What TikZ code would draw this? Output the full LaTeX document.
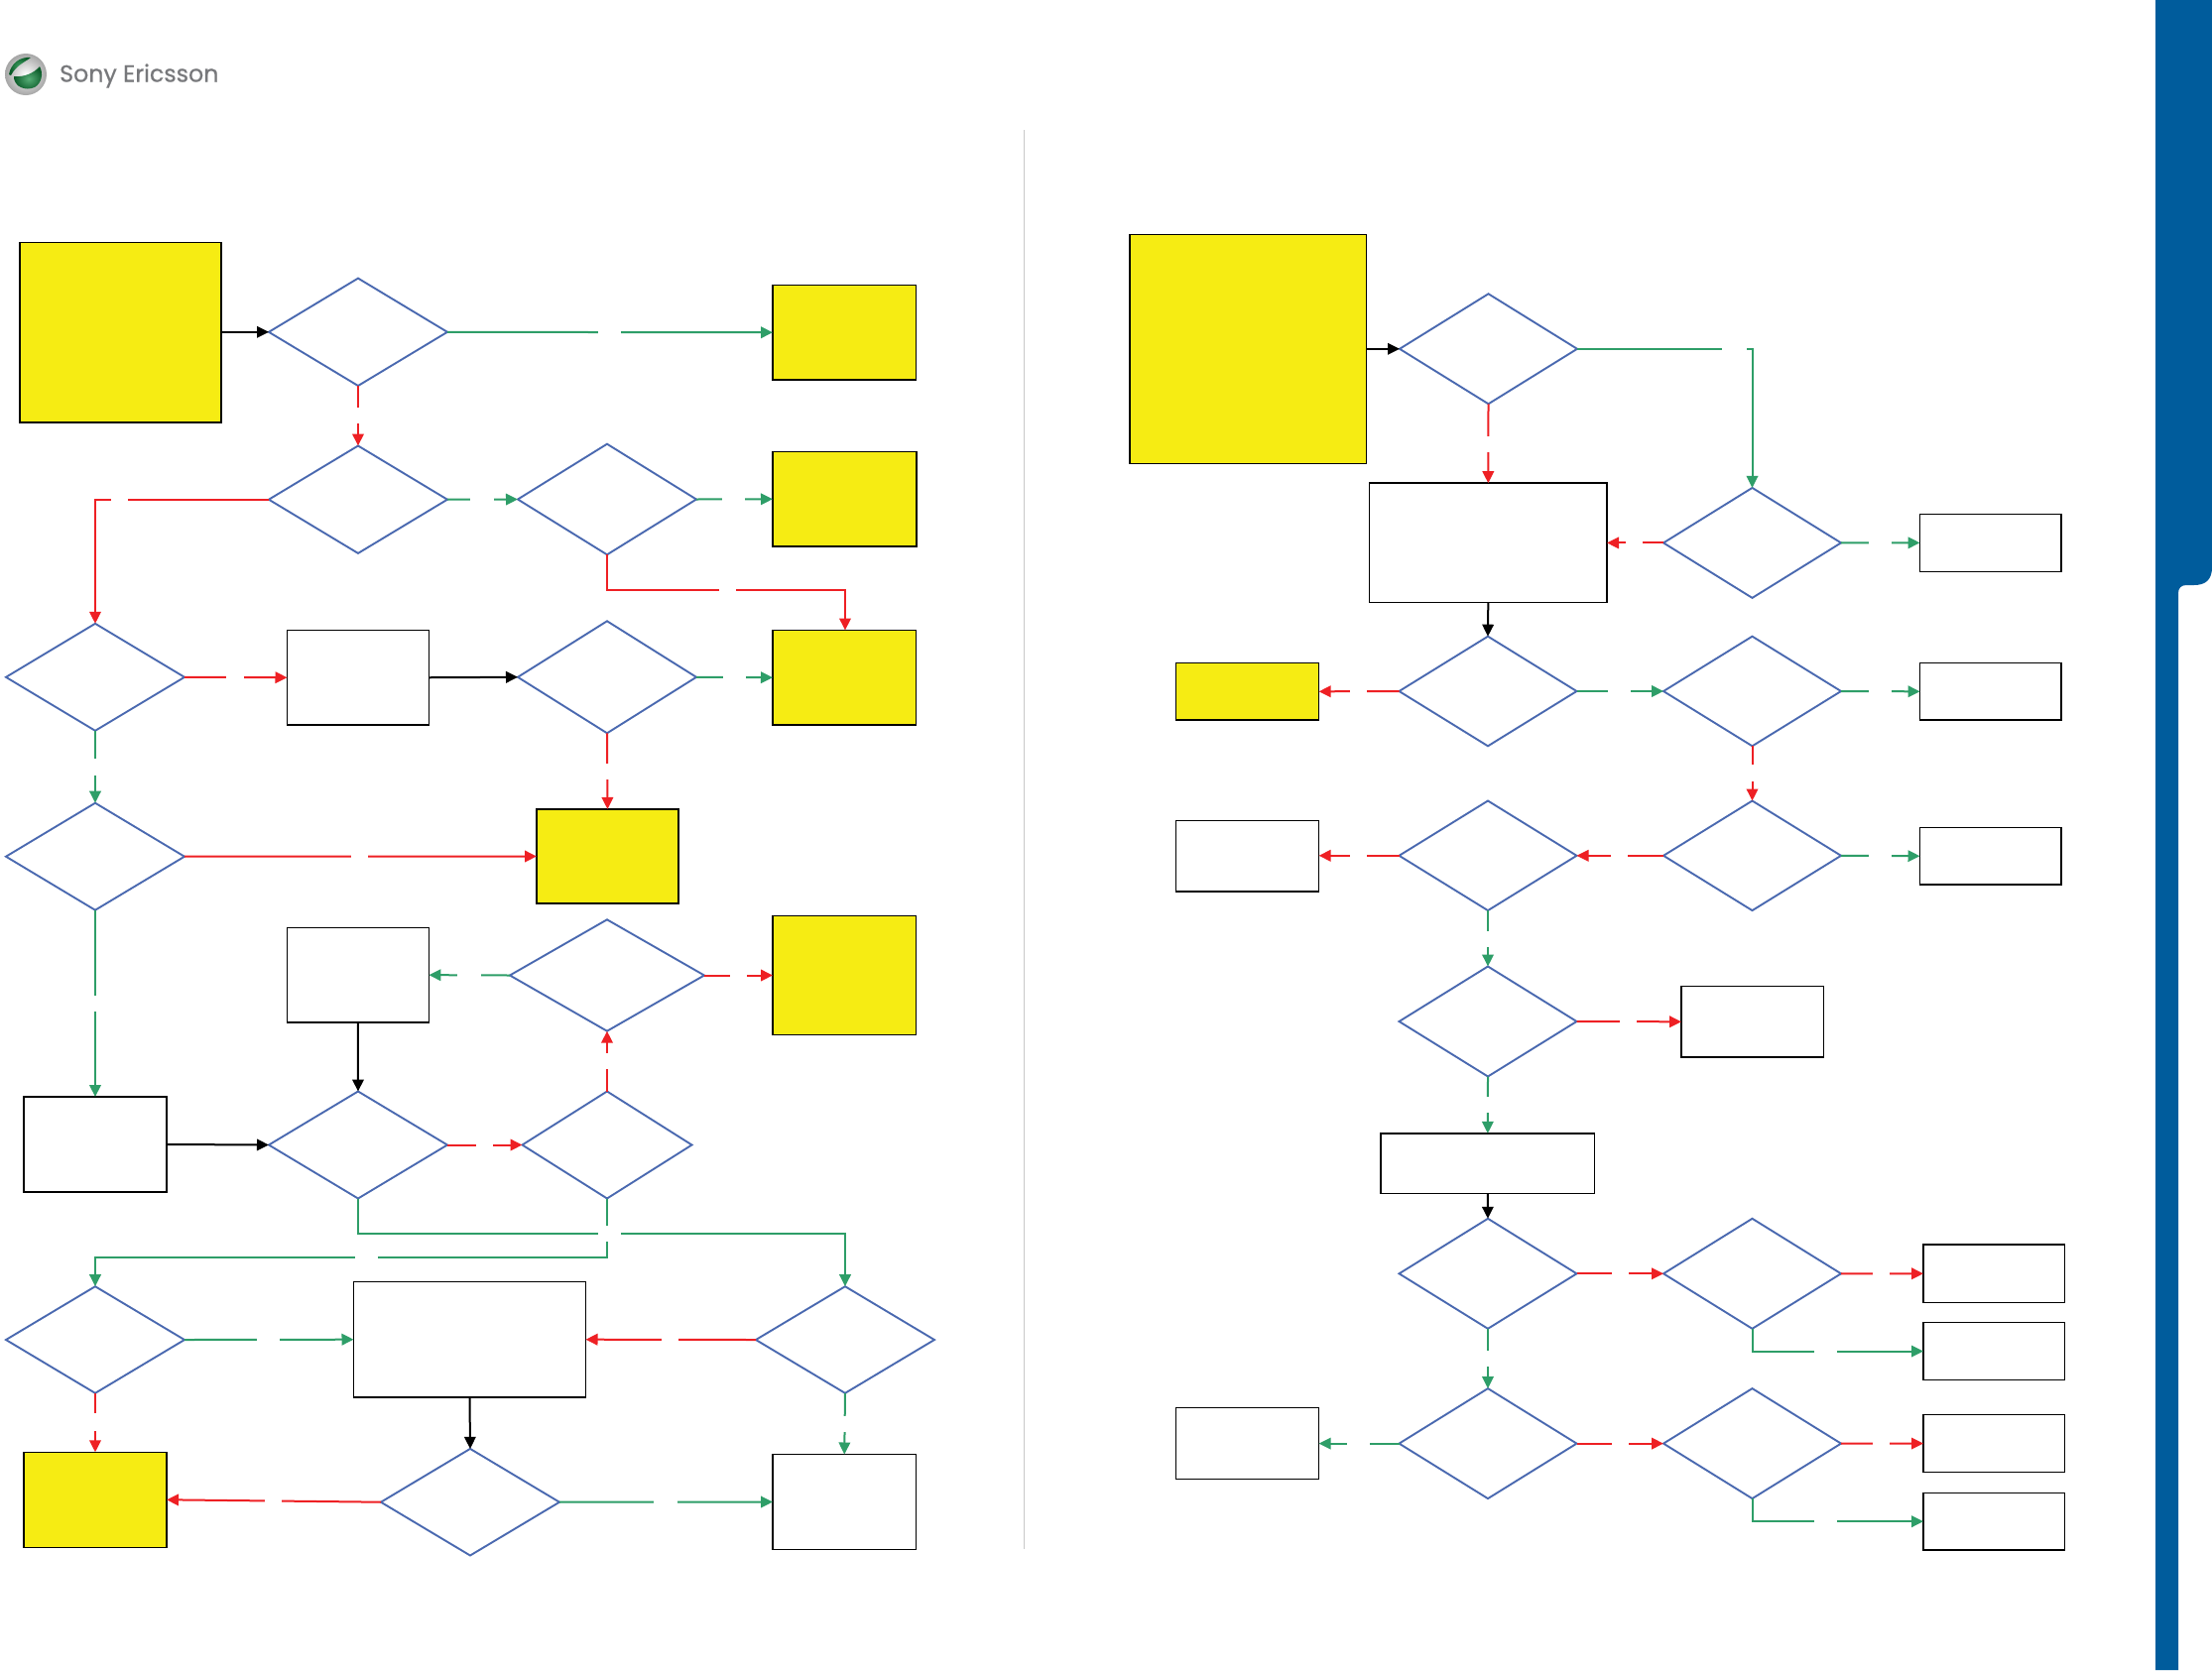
\documentclass[tikz,border=0pt]{standalone}
\usepackage{fontspec}
\newfontfamily\logofont[FakeBold=0.6]{Poppins}
\usetikzlibrary{shapes.geometric,arrows.meta}
\definecolor{ydl}{HTML}{F6EC13}
\definecolor{dblue}{HTML}{4A69B0}
\definecolor{gline}{HTML}{2E9E68}
\definecolor{rline}{HTML}{EE2024}
\definecolor{band}{HTML}{005C9C}
\definecolor{sep}{HTML}{C8C8C8}
\definecolor{logotxt}{HTML}{77787B}
\definecolor{logogreen}{HTML}{0F8A3C}
\definecolor{logodark}{HTML}{0A5A28}
\tikzset{
  wbox/.style={draw=black,line width=1.5pt,fill=white,rectangle,inner sep=0pt,outer sep=0pt},
  ybox/.style={wbox,fill=ydl},
  dec/.style={draw=dblue,line width=1.9pt,fill=white,diamond,shape aspect=1,inner sep=0pt,outer sep=0pt},
  gc/.style={line width=2pt,draw=gline,-{Triangle[length=12pt,width=11.5pt,fill=gline]}},
  rc/.style={line width=2pt,draw=rline,-{Triangle[length=12pt,width=11.5pt,fill=rline]}},
  kc/.style={line width=2pt,draw=black,-{Triangle[length=12pt,width=11.5pt,fill=black]}},
}
% \boxat[style]{name}{x1}{x2}{y1}{y2}
\newcommand{\boxat}[6][wbox]{\node[#1,minimum width={(#4-#3)*1pt},minimum height={(#6-#5)*1pt}] (#2) at ({(#3+#4)/2},{(#5+#6)/2}) {};}
% \decat{name}{cx}{cy}{half width}{half height}
\newcommand{\decat}[5]{\node[dec,minimum width={2*#4*1pt},minimum height={2*#5*1pt}] (#1) at (#2,#3) {};}
\newcommand{\hgap}[3]{\fill[white] (#1,#3-4) rectangle (#2,#3+4);}
\newcommand{\vgap}[3]{\fill[white] (#3-4,#1) rectangle (#3+4,#2);}
\begin{document}
\begin{tikzpicture}[x=1pt,y=-1pt]
\useasboundingbox (0,0) rectangle (2230,1684);
\fill[white] (0,0) rectangle (2230,1684);
% side band
\fill[band] (2173,0) -- (2230,0) -- (2230,572) .. controls (2230,584) and (2224,590) .. (2212,590) -- (2204,590) .. controls (2199,590) and (2196,593) .. (2196,598) -- (2196,1684) -- (2173,1684) -- cycle;
% separator
\draw[sep,line width=1.4pt] (1032.5,131) -- (1032.5,1562);
% logo
\shade[inner color=white,outer color=gray!70] (26,75) circle (21);
\shade[inner color=logogreen!80!white,outer color=logodark] (9,75) .. controls (11,64) and (20,57) .. (31,58) .. controls (26,62) and (16,66) .. (11,76) -- cycle;
\shade[inner color=logogreen!70!white,outer color=logodark] (14,77) .. controls (24,78) and (34,74) .. (40,67) .. controls (44,74) and (42,84) .. (35,88) .. controls (26,92) and (14,88) .. (14,77) -- cycle;
\node[anchor=base west,inner sep=0pt,text=logotxt,font=\logofont\fontsize{23.7}{24}\selectfont] (logotext) at (60,82.5) {Sony Ericsson};

% ---- left flow: boxes
\boxat[ybox]{y1}{20}{223}{244.3}{426.2}
\boxat[ybox]{y2}{779}{923.5}{287.5}{383}
\boxat[ybox]{y3}{779}{924}{455.5}{551}
\boxat[ybox]{y4}{779}{923.5}{635.5}{731}
\boxat[ybox]{y5}{541}{684}{816}{911}
\boxat[ybox]{y6}{779}{923.5}{923.7}{1043.3}
\boxat[ybox]{y7}{24}{168}{1464.3}{1560.3}
\boxat{w1}{289.5}{432.4}{635.5}{731}
\boxat{w2}{289.5}{432.4}{935.3}{1031}
\boxat{w3}{24}{168}{1106}{1202}
\boxat{w4}{356.5}{590.5}{1292.4}{1409}
\boxat{w5}{779}{923.5}{1466.5}{1562.5}
% left flow: decisions
\decat{d1}{361}{334.8}{90}{54.2}
\decat{d2}{361}{503.7}{90}{54.2}
\decat{d3}{612}{503.5}{90}{55.8}
\decat{d4}{96}{682.8}{90}{54}
\decat{d5}{612}{682.8}{90}{56.5}
\decat{d6}{96}{863.7}{90}{54}
\decat{d7}{612}{983.5}{98}{56.2}
\decat{d8}{361}{1154.5}{90}{54}
\decat{d9}{612}{1154.5}{85.5}{54}
\decat{d10}{852}{1351}{90}{53.8}
\decat{d11}{96}{1351}{90}{53.8}
\decat{d12}{474}{1514.7}{90}{53.8}
% left flow: connectors
\coordinate (e1) at (852,594.7);
\coordinate (e2) at (852,1244);
\coordinate (e3) at (96,1268.3);
\draw[kc] (y1.east |- d1.west) -- (d1.west);
\draw[gc] (d1.east) -- (y2.west);
\draw[rc] (d1.south) -- (d2.north);
\draw[gc] (d2.east) -- (d3.west);
\draw[gc] (d3.east) -- (y3.west);
\draw[rc] (d2.west) -| (d4.north);
\draw[rc] (d3.south) |- (e1) -- (y4.north -| e1);
\draw[rc] (d4.east) -- (w1.west);
\draw[kc] (w1.east) -- (d5.west);
\draw[gc] (d5.east) -- (y4.west);
\draw[rc] (d5.south) -- (y5.north);
\draw[gc] (d4.south) -- (d6.north);
\draw[rc] (d6.east) -- (y5.west);
\draw[gc] (d6.south) -- (w3.north);
\draw[gc] (d7.west) -- (w2.east);
\draw[rc] (d7.east) -- (y6.west);
\draw[rc] (d9.north) -- (d7.south);
\draw[kc] (w2.south) -- (d8.north);
\draw[kc] (w3.east) -- (d8.west);
\draw[rc] (d8.east) -- (d9.west);
\draw[gc] (d8.south) |- (e2) -- (d10.north);
\draw[gc] (d9.south) |- (e3) -- (d11.north);
\draw[gc] (d11.east) -- (w4.west);
\draw[rc] (d10.west) -- (w4.east);
\draw[rc] (d11.south) -- (y7.north);
\draw[gc] (d10.south) -- (w5.north);
\draw[kc] (w4.south) -- (d12.north);
\draw[rc] (d12.west) -- (y7.east);
\draw[gc] (d12.east) -- (w5.west);
% left flow: breaks in the connectors
\hgap{603}{626}{334.8}
\vgap{410.5}{427}{361}
\hgap{474}{498}{503.7}
\hgap{728}{751}{503.5}
\hgap{112}{129}{503.7}
\hgap{725}{742}{594.7}
\hgap{228}{246}{682.8}
\hgap{729}{752}{682.8}
\vgap{770}{786}{612}
\vgap{765}{782}{96}
\hgap{354}{371}{863.7}
\vgap{1003.6}{1019.6}{96}
\hgap{461}{485}{983.5}
\hgap{736}{753}{983.5}
\vgap{1062}{1078}{612}
\hgap{480}{497}{1154.5}
\hgap{603}{626}{1244}
\vgap{1235.7}{1251.8}{612}
\hgap{358}{381}{1268.3}
\hgap{259}{282}{1351}
\hgap{667}{684}{1351}
\vgap{1425.4}{1442.9}{96}
\vgap{1427.7}{1444}{852}
\hgap{267}{284}{1513.5}
\hgap{659}{683}{1514.7}

% ---- right flow: boxes
\boxat[ybox]{y8}{1139}{1377.4}{236.5}{467.5}
\boxat[ybox]{y9}{1185.5}{1329.6}{668.6}{726}
\boxat{w6}{1380.6}{1620}{487.2}{607.5}
\boxat{w7}{1935.5}{2078}{518.4}{576.3}
\boxat{w8}{1935.5}{2078}{668.6}{726}
\boxat{w9}{1185.5}{1329.6}{827.4}{899}
\boxat{w10}{1935.5}{2078}{834.3}{892.2}
\boxat{w11}{1695}{1838.5}{994.6}{1066}
\boxat{w12}{1392}{1607.6}{1142.9}{1203.6}
\boxat{w13}{1939}{2081.5}{1255.2}{1313.3}
\boxat{w14}{1939}{2081.5}{1333.7}{1391.4}
\boxat{w15}{1185.5}{1329.6}{1419.6}{1491.6}
\boxat{w16}{1939}{2081.5}{1426.5}{1484.6}
\boxat{w17}{1939}{2081.5}{1505.4}{1563}
% right flow: decisions
\decat{d13}{1500.5}{351.8}{89.5}{55.5}
\decat{d14}{1766.5}{547.4}{89.5}{55.5}
\decat{d15}{1500}{697}{89.5}{55.3}
\decat{d16}{1766.5}{697}{89.5}{55.3}
\decat{d17}{1500}{862.8}{89.5}{55.3}
\decat{d18}{1766.5}{862.8}{89.5}{55.3}
\decat{d19}{1500}{1030}{89.5}{55.5}
\decat{d20}{1500}{1284.3}{89.5}{55.5}
\decat{d21}{1766.5}{1284.3}{89.5}{55.5}
\decat{d22}{1500}{1455.6}{89.5}{55.5}
\decat{d23}{1766.5}{1455.6}{89.5}{55.5}
% right flow: connectors
\draw[kc] (y8.east |- d13.west) -- (d13.west);
\draw[gc] (d13.east) -| (d14.north);
\draw[rc] (d13.south) -- (w6.north);
\draw[rc] (d14.west) -- (w6.east |- d14.west);
\draw[gc] (d14.east) -- (w7.west);
\draw[kc] (w6.south) -- (d15.north);
\draw[rc] (d15.west) -- (y9.east);
\draw[gc] (d15.east) -- (d16.west);
\draw[gc] (d16.east) -- (w8.west);
\draw[rc] (d16.south) -- (d18.north);
\draw[rc] (d18.west) -- (d17.east);
\draw[rc] (d17.west) -- (w9.east |- d17.west);
\draw[gc] (d18.east) -- (w10.west);
\draw[gc] (d17.south) -- (d19.north);
\draw[rc] (d19.east) -- (w11.west);
\draw[gc] (d19.south) -- (w12.north);
\draw[kc] (w12.south) -- (d20.north);
\draw[rc] (d20.east) -- (d21.west);
\draw[rc] (d21.east) -- (w13.west);
\draw[gc] (d21.south) |- (w14.west);
\draw[gc] (d20.south) -- (d22.north);
\draw[gc] (d22.west) -- (w15.east);
\draw[rc] (d22.east) -- (d23.west);
\draw[rc] (d23.east) -- (w16.west);
\draw[gc] (d23.south) |- (w17.west);
% right flow: breaks in the connectors
\hgap{1736}{1761}{351.8}
\vgap{439.5}{456}{1500.3}
\hgap{1639}{1656}{547.4}
\hgap{1884}{1907}{547.4}
\hgap{1361}{1378}{697}
\hgap{1621}{1644}{697}
\hgap{1884}{1907}{697}
\vgap{771.4}{788}{1766.5}
\hgap{1624}{1641}{862.8}
\hgap{1361}{1378}{862.8}
\hgap{1884}{1907}{862.8}
\vgap{939}{955}{1500}
\hgap{1633}{1650}{1030}
\vgap{1106}{1122}{1500}
\hgap{1625}{1642}{1284.3}
\hgap{1888}{1905}{1284.3}
\hgap{1829}{1852}{1362.8}
\vgap{1361.9}{1378}{1500}
\hgap{1358}{1381}{1455.6}
\hgap{1625}{1642}{1455.6}
\hgap{1888}{1905}{1455.6}
\hgap{1829}{1852}{1534}
\end{tikzpicture}
\end{document}
